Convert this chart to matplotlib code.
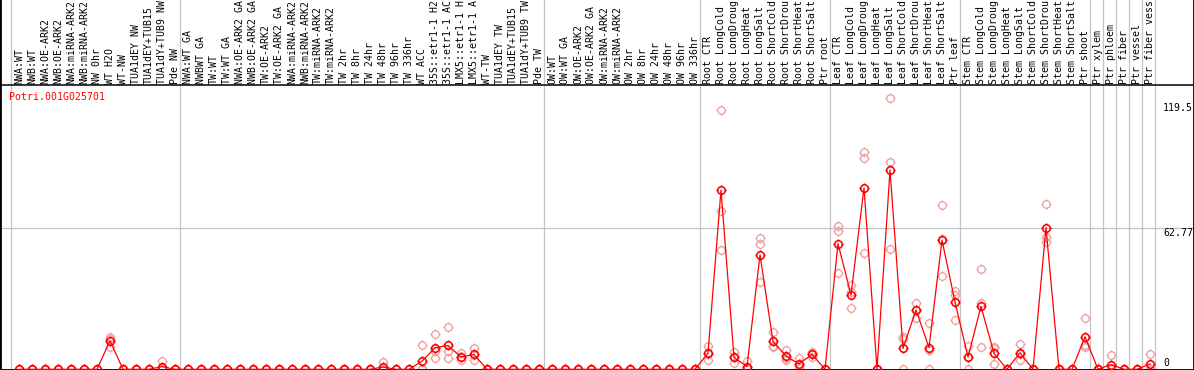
import numpy as np
import matplotlib
matplotlib.use("Agg")
import matplotlib.pyplot as plt
from matplotlib.path import Path

# ---------------- data ----------------
title = "Potri.001G025701"

labels = [
    # group 1
    "NWA:WT", "NWB:WT", "NWA:OE-ARK2", "NWB:OE-ARK2", "NWA:miRNA-ARK2", "NWB:miRNA-ARK2",
    "NW 0hr", "WT H2O", "WT-NW", "TUA1dEY NW", "TUA1dEY+TUB15", "TUA1dY+TUB9 NW", "Pde NW",
    # group 2
    "NWA:WT GA", "NWBWT GA", "TW:WT", "TW:WT GA", "NWA:OE-ARK2 GA", "NWB:OE-ARK2 GA",
    "TW:OE-ARK2", "TW:OE-ARK2 GA", "NWA:miRNA-ARK2", "NWB:miRNA-ARK2", "TW:miRNA-ARK2",
    "TW:miRNA-ARK2", "TW 2hr", "TW 8hr", "TW 24hr", "TW 48hr", "TW 96hr", "TW 336hr",
    "WT ACC", "35S::etr1-1 H2", "35S::etr1-1 AC", "LMX5::etr1-1 H", "LMX5::etr1-1 A",
    "WT-TW", "TUA1dEY TW", "TUA1dEY+TUB15", "TUA1dY+TUB9 TW", "Pde TW",
    # group 3
    "OW:WT", "OW:WT GA", "OW:OE-ARK2", "OW:OE-ARK2 GA", "OW:miRNA-ARK2", "OW:miRNA-ARK2",
    "OW 2hr", "OW 8hr", "OW 24hr", "OW 48hr", "OW 96hr", "OW 336hr",
    # root
    "Root CTR", "Root LongCold", "Root LongDroug", "Root LongHeat", "Root LongSalt",
    "Root ShortCold", "Root ShortDrou", "Root ShortHeat", "Root ShortSalt", "Ptr root",
    # leaf
    "Leaf CTR", "Leaf LongCold", "Leaf LongDroug", "Leaf LongHeat", "Leaf LongSalt",
    "Leaf ShortCold", "Leaf ShortDrou", "Leaf ShortHeat", "Leaf ShortSalt", "Ptr leaf",
    # stem
    "Stem CTR", "Stem LongCold", "Stem LongDroug", "Stem LongHeat", "Stem LongSalt",
    "Stem ShortCold", "Stem ShortDrou", "Stem ShortHeat", "Stem ShortSalt", "Ptr shoot",
    # ptr tissues
    "Ptr xylem", "Ptr phloem", "Ptr fiber", "Ptr vessel", "Ptr fiber vess",
]

group_sizes = [13, 28, 12, 10, 10, 10, 1, 1, 1, 1, 1]

means = [
    0, 0, 0, 0, 0, 0, 0, 12.7, 0, 0, 0, 1.2, 0,
    0, 0, 0, 0, 0, 0, 0, 0, 0, 0, 0, 0, 0, 0, 0, 1.0, 0, 0,
    3.6, 9.6, 10.6, 5.5, 6.6, 0, 0, 0, 0, 0,
    0, 0, 0, 0, 0, 0, 0, 0, 0, 0, 0, 0,
    7.2, 79.8, 5.3, 1.2, 51.0, 12.4, 5.9, 2.4, 6.7, 0,
    56.0, 33.1, 80.8, 0, 88.7, 9.3, 26.4, 9.7, 57.5, 30.0,
    5.4, 28.0, 7.1, 0, 7.4, 0, 63.1, 0, 0, 14.5,
    0, 2.1, 0, 0, 2.4,
]

rep1 = [
    0, 0, 0, 0, 0, 0, 0, 14.5, 0, 0, 0, 3.7, 0,
    0, 0, 0, 0, 0, 0, 0, 0, 0, 0, 0, 0, 0, 0, 0, 3.1, 0, 0,
    10.8, 15.6, 18.7, 7.1, 9.3, 0, 0, 0, 0, 0,
    0, 0, 0, 0, 0, 0, 0, 0, 0, 0, 0, 0,
    10.4, 115.5, 7.6, 3.7, 58.6, 16.5, 8.6, 4.9, 7.8, 0,
    63.8, 37.5, 96.6, 0, 120.6, 14.5, 29.4, 20.5, 73.0, 35.0,
    10.5, 44.5, 9.3, 0, 11.1, 0, 73.5, 0, 0, 22.7,
    0, 6.4, 0, 0, 6.8,
]

rep2 = [
    0, 0, 0, 0, 0, 0, 0, 13.5, 0, 0, 0, 0, 0,
    0, 0, 0, 0, 0, 0, 0, 0, 0, 0, 0, 0, 0, 0, 0, 0, 0, 0,
    0, 8.3, 8.3, 5.3, 6.4, 0, 0, 0, 0, 0,
    0, 0, 0, 0, 0, 0, 0, 0, 0, 0, 0, 0,
    7.0, 70.5, 5.5, 0, 55.6, 10.5, 5.0, 1.5, 6.7, 0,
    61.6, 34.4, 93.9, 0, 92.2, 13.5, 26.4, 8.6, 58.0, 33.0,
    5.6, 29.7, 9.8, 0, 7.0, 0, 59.0, 0, 0, 10.8,
    0, 0, 0, 0, 0.3,
]

rep3 = [
    0, 0, 0, 0, 0, 0, 0, 10.1, 0, 0, 0, 0, 0,
    0, 0, 0, 0, 0, 0, 0, 0, 0, 0, 0, 0, 0, 0, 0, 0, 0, 0,
    0, 4.9, 4.9, 4.1, 4.1, 0, 0, 0, 0, 0,
    0, 0, 0, 0, 0, 0, 0, 0, 0, 0, 0, 0,
    4.1, 53.0, 2.7, 0, 38.9, 10.1, 4.1, 0.8, 5.6, 0,
    42.7, 27.4, 51.8, 0, 53.4, 0, 22.7, 0, 41.5, 21.9,
    0, 9.8, 2.2, 0, 4.1, 0, 56.8, 0, 0, 10.1,
    0, 0, 0, 0, 0,
]

y_ticks = [119.5, 62.77, 0]
y_tick_labels = ["119.5", "62.77", "0"]
grid_value = 62.77

# ---------------- layout (pixels) ----------------
W, H = 1194, 370
X0_PX, STEP_PX = 19.0, 13.0       # first sample x and spacing
ZERO_PX = 369.3                   # pixel row of value 0 (from top)
PX_PER_UNIT = 2.246
HEADER_PX = 85.0                  # black line under the header labels

MONO = "DejaVu Sans Mono"
FS = 7.15

fig = plt.figure(figsize=(W / 100, H / 100), dpi=100)
ax = fig.add_axes([0, 0, 1, 1])
ax.set_xlim(-X0_PX / STEP_PX, (W - X0_PX) / STEP_PX)
ax.set_ylim(-(H - ZERO_PX) / PX_PER_UNIT, ZERO_PX / PX_PER_UNIT)
ax.set_xticks([])
ax.set_yticks([])
for side in ["left", "right", "bottom"]:
    ax.spines[side].set_linewidth(2.0)
    ax.spines[side].set_color("black")
ax.spines["top"].set_visible(False)

def px_to_val(py):
    return (ZERO_PX - py) / PX_PER_UNIT

x = np.arange(len(labels))

# group separator lines (light grey, full height)
bounds = np.concatenate([[0], np.cumsum(group_sizes)])
ax.axvline(-0.65, color="#c4c4c4", lw=0.9, zorder=1)
for b in bounds[1:]:
    ax.axvline(b - 0.6, color="#c4c4c4", lw=0.9, zorder=1)

# horizontal grid line at 62.77
ax.axhline(grid_value, color="#c4c4c4", lw=0.9, zorder=1)

# header black line
ax.axhline(px_to_val(HEADER_PX), color="black", lw=1.1, zorder=5)

# header labels (rotated)
for xi, lab in zip(x, labels):
    ax.text(xi, px_to_val(HEADER_PX - 1.5), lab, rotation=90, ha="center", va="bottom",
            family=MONO, fontsize=FS, color="black", clip_on=False)

# marker: hollow circle with four short ticks
circ = Path.unit_circle()
ticks = Path([(0, 1), (0, 1.35), (0, -1), (0, -1.35), (1, 0), (1.35, 0), (-1, 0), (-1.35, 0)],
             [Path.MOVETO, Path.LINETO] * 4)
mpath = Path.make_compound_path(circ, ticks)

rep_color = "#f09c9c"
for reps in (rep1, rep2, rep3):
    ax.plot(x, reps, linestyle="none", marker=mpath, markersize=7.3,
            markerfacecolor="none", markeredgecolor=rep_color, markeredgewidth=0.9, zorder=2)

ax.plot(x, means, color="red", lw=0.9, zorder=3)
ax.plot(x, means, linestyle="none", marker=mpath, markersize=7.3,
        markerfacecolor="none", markeredgecolor="red", markeredgewidth=1.15, zorder=4)

# right-hand value labels
label_x = (1163 - X0_PX) / STEP_PX
label_baseline_px = [111.0, 235.5, 366.0]
for val, txt, bpx in zip(y_ticks, y_tick_labels, label_baseline_px):
    ax.text(label_x, px_to_val(bpx), txt, ha="left", va="baseline",
            family=MONO, fontsize=FS, color="black", clip_on=False)

# gene id
fig.text(8.5 / W, 1 - 99.5 / H, title, ha="left", va="baseline",
         family=MONO, fontsize=FS, color="red")

fig.savefig("out.png", dpi=100)
